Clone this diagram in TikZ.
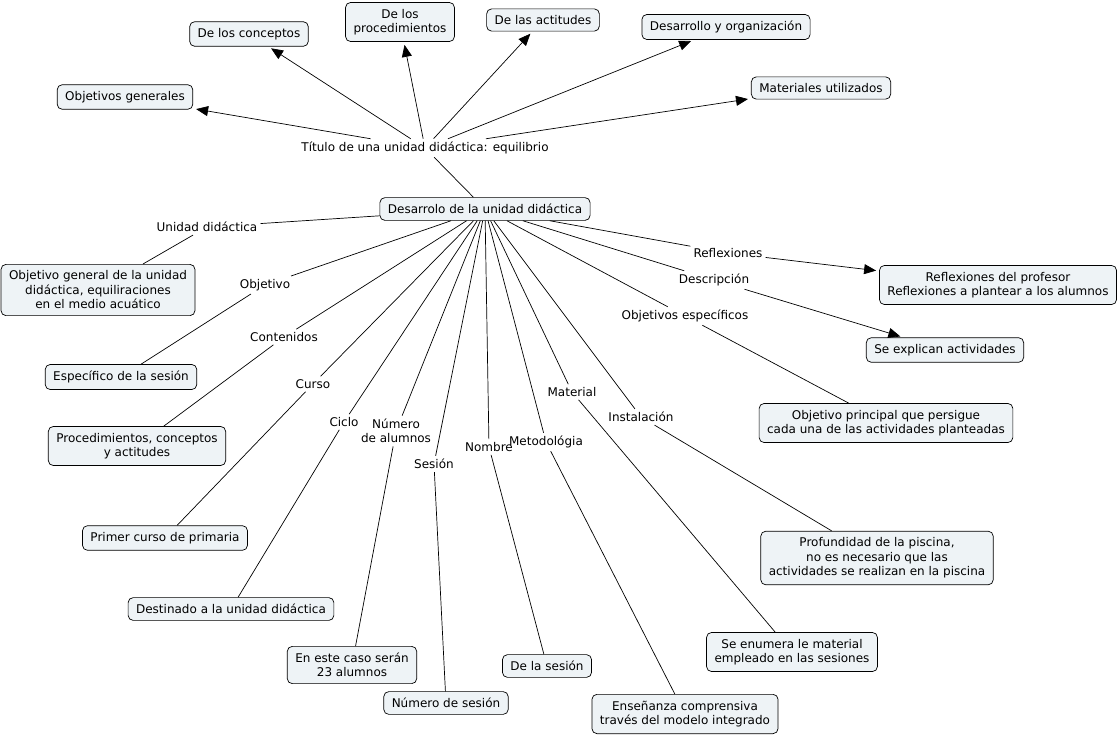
\documentclass[tikz,border=0pt]{standalone}
\usepackage{fontspec}
\setmainfont{DejaVu Sans}
\usetikzlibrary{arrows.meta}
\definecolor{cor_caixa}{HTML}{EEF3F6}

\begin{document}
\begin{tikzpicture}[x=1pt,y=-1pt]
        \tikzset{
            caixa/.style={
                draw,
                fill=cor_caixa,
                rounded corners=5pt,
                align=center,
                line width=0.7pt,
                inner xsep=8pt,
                inner ysep=6.5pt,
                font=\fontsize{12}{14.5}\selectfont
            },
            frase/.style={
                align=center,
                inner sep=3pt,
                font=\fontsize{12}{14.5}\selectfont
            },
            liga/.style={line width=0.7pt},
            seta/.style={liga, -{Triangle[length=12pt,width=10pt]}, shorten >=3pt}
        }
        \useasboundingbox (0,0) rectangle (1117,737);

        %topo
        \node[caixa] (objgerais) at (125,97) {Objetivos generales};
        \node[caixa] (conceptos) at (249,34) {De los conceptos};
        \node[caixa] (proced) at (400,22) {De los\\procedimientos};
        \node[caixa] (actitudes) at (543,20) {De las actitudes};
        \node[caixa] (desorg) at (726,27) {Desarrollo y organización};
        \node[caixa] (materiales) at (821,88) {Materiales utilizados};
        \node[frase] (titulo) at (425,148) {Título de una unidad didáctica: equilibrio};
        \node[caixa] (desarrollo) at (485,209) {Desarrolo de la unidad didáctica};

        %frases de ligacao
        \node[frase] (l_unidad) at (207,227) {Unidad didáctica};
        \node[frase] (l_objetivo) at (265,285) {Objetivo};
        \node[frase] (l_contenidos) at (284,337) {Contenidos};
        \node[frase] (l_curso) at (313,384) {Curso};
        \node[frase] (l_ciclo) at (344,422) {Ciclo};
        \node[frase] (l_numero) at (396,431) {Número\\de alumnos};
        \node[frase] (l_sesion) at (434,464) {Sesión};
        \node[frase] (l_nombre) at (489,447) {Nombre};
        \node[frase] (l_metodo) at (546,442) {Metodológia};
        \node[frase] (l_material) at (572,392) {Material};
        \node[frase] (l_instal) at (641,417) {Instalación};
        \node[frase] (l_objesp) at (685,316) {Objetivos específicos};
        \node[frase] (l_descr) at (714,280) {Descripción};
        \node[frase] (l_reflex) at (728,253) {Reflexiones};

        %caixas de baixo
        \node[caixa] (objgral) at (98,290) {Objetivo general de la unidad\\didáctica, equiliraciones\\en el medio acuático};
        \node[caixa] (especifico) at (121,377) {Específico de la sesión};
        \node[caixa] (procs) at (137,446) {Procedimientos, conceptos\\y actitudes};
        \node[caixa] (primer) at (165,538) {Primer curso de primaria};
        \node[caixa] (destinado) at (231,609) {Destinado a la unidad didáctica};
        \node[caixa] (caso) at (352,665) {En este caso serán\\23 alumnos};
        \node[caixa] (numses) at (446,703) {Número de sesión};
        \node[caixa] (delases) at (547,666) {De la sesión};
        \node[caixa] (ensenanza) at (685,714) {Enseñanza comprensiva\\través del modelo integrado};
        \node[caixa] (enumera) at (792,652) {Se enumera le material\\empleado en las sesiones};
        \node[caixa] (profund) at (877,558) {Profundidad de la piscina,\\no es necesario que las\\actividades se realizan en la piscina};
        \node[caixa] (objprinc) at (886,423) {Objetivo principal que persigue\\cada una de las actividades planteadas};
        \node[caixa] (explican) at (945,350) {Se explican actividades};
        \node[caixa] (reflbox) at (998,285) {Reflexiones del profesor\\Reflexiones a plantear a los alumnos};

        %setas do titulo
        \draw[seta] (titulo) -- (objgerais);
        \draw[seta] (titulo) -- (conceptos);
        \draw[seta] (titulo) -- (proced);
        \draw[seta] (titulo) -- (actitudes);
        \draw[seta] (titulo) -- (desorg);
        \draw[seta] (titulo) -- (materiales);
        \draw[liga] (titulo) -- (desarrollo);

        %linhas do desarrollo
        \draw[liga] (desarrollo) -- (l_unidad) -- (objgral);
        \draw[liga] (desarrollo) -- (l_objetivo) -- (especifico);
        \draw[liga] (desarrollo) -- (l_contenidos) -- (procs);
        \draw[liga] (desarrollo) -- (l_curso) -- (primer);
        \draw[liga] (desarrollo) -- (l_ciclo) -- (destinado);
        \draw[liga] (desarrollo) -- (l_numero) -- (caso);
        \draw[liga] (desarrollo) -- (l_sesion) -- (numses);
        \draw[liga] (desarrollo) -- (l_nombre) -- (delases);
        \draw[liga] (desarrollo) -- (l_metodo) -- (ensenanza);
        \draw[liga] (desarrollo) -- (l_material) -- (enumera);
        \draw[liga] (desarrollo) -- (l_instal) -- (profund);
        \draw[liga] (desarrollo) -- (l_objesp) -- (objprinc);
        \draw[liga] (desarrollo) -- (l_descr);
        \draw[seta] (l_descr) -- (explican);
        \draw[liga] (desarrollo) -- (l_reflex);
        \draw[seta] (l_reflex) -- (reflbox);

    \end{tikzpicture}
\end{document}
